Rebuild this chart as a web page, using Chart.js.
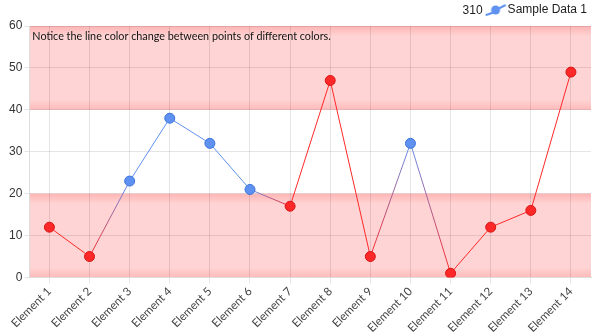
<!DOCTYPE html>
<html>
<head>
<meta charset="utf-8">
<script src="https://cdn.jsdelivr.net/npm/chart.js@4/dist/chart.umd.min.js"></script>
<style>
  html, body { margin: 0; padding: 0; background: #fff; }
  #wrap { width: 601px; height: 336px; }
</style>
</head>
<body>
<div id="wrap"><canvas id="chart"></canvas></div>
<script>
// ===== Data =====
const labels = ['Element 1', 'Element 2', 'Element 3', 'Element 4', 'Element 5', 'Element 6', 'Element 7',
  'Element 8', 'Element 9', 'Element 10', 'Element 11', 'Element 12', 'Element 13', 'Element 14'];
const values = [12, 5, 23, 38, 32, 21, 17, 47, 5, 32, 1, 12, 16, 49];
const yTicks = [0, 10, 20, 30, 40, 50, 60];
const bands = [[0, 20], [40, 60]];
const legendPrefix = '310';
const note = 'Notice the line color change between points of different colors.';

const RED = 'rgb(255, 40, 40)';
const RED_DARK = 'rgb(215, 20, 20)';
const BLUE = 'rgb(95, 145, 240)';
const BLUE_DARK = 'rgb(60, 115, 220)';

// red outside 20..40, blue inside
function colorFor(v) { return (v < 20 || v > 40) ? RED : BLUE; }
function borderFor(v) { return (v < 20 || v > 40) ? RED_DARK : BLUE_DARK; }

const FONT = "Lato, sans-serif";
const ARIAL = "'Liberation Sans', Arial, sans-serif";

// legend icon: small line with a dot on it
const legendIcon = document.createElement('canvas');
legendIcon.width = 22;
legendIcon.height = 14;
(function () {
  const c = legendIcon.getContext('2d');
  c.strokeStyle = BLUE;
  c.lineWidth = 2;
  c.beginPath();
  c.moveTo(1, 12);
  c.quadraticCurveTo(7, 11, 11, 7);
  c.lineTo(21, 2);
  c.stroke();
  c.fillStyle = BLUE;
  c.beginPath();
  c.arc(11, 7, 4.5, 0, Math.PI * 2);
  c.fill();
})();

// ===== Background bands + note text =====
const bandPlugin = {
  id: 'bands',
  beforeDraw(chart) {
    const { ctx, chartArea, scales } = chart;
    const y = scales.y;
    ctx.save();
    bands.forEach(([lo, hi]) => {
      const top = y.getPixelForValue(hi);
      const bot = y.getPixelForValue(lo);
      const g = ctx.createLinearGradient(0, top, 0, bot);
      g.addColorStop(0, 'rgba(255, 172, 172, 0.9)');
      g.addColorStop(0.12, 'rgba(255, 207, 207, 0.9)');
      g.addColorStop(0.88, 'rgba(255, 207, 207, 0.9)');
      g.addColorStop(1, 'rgba(255, 178, 178, 0.9)');
      ctx.fillStyle = g;
      ctx.fillRect(chartArea.left, top, chartArea.right - chartArea.left, bot - top);
    });
    ctx.restore();
  },
  afterDraw(chart) {
    const { ctx, chartArea, legend } = chart;
    ctx.save();
    ctx.fillStyle = '#111';
    ctx.font = "10.8px " + FONT;
    ctx.textBaseline = 'middle';
    ctx.fillText(note, chartArea.left + 3, chartArea.top + 11);
    // prefix in front of the legend item
    if (legend && legend.legendHitBoxes.length) {
      const box = legend.legendHitBoxes[0];
      ctx.font = "12px " + ARIAL;
      ctx.fillStyle = '#222';
      ctx.textAlign = 'right';
      ctx.fillText(legendPrefix, box.left - 7, box.top + box.height / 2 + 1);
    }
    ctx.restore();
  }
};

// gradient between consecutive points of different colours
function segColor(c) {
  const a = values[c.p0DataIndex], b = values[c.p1DataIndex];
  const ca = colorFor(a), cb = colorFor(b);
  if (ca === cb) return ca;
  const g = c.chart.ctx.createLinearGradient(c.p0.x, c.p0.y, c.p1.x, c.p1.y);
  g.addColorStop(0, ca);
  g.addColorStop(1, cb);
  return g;
}

new Chart(document.getElementById('chart'), {
  type: 'line',
  data: {
    labels: labels,
    datasets: [{
      label: 'Sample Data 1',
      data: values,
      borderWidth: 1,
      borderColor: BLUE,
      backgroundColor: BLUE,
      tension: 0,
      fill: false,
      pointRadius: 5,
      pointHoverRadius: 5,
      pointBorderWidth: 1,
      pointBackgroundColor: values.map(colorFor),
      pointBorderColor: values.map(borderFor),
      segment: { borderColor: segColor }
    }]
  },
  options: {
    responsive: true,
    maintainAspectRatio: false,
    animation: false,
    layout: { padding: { left: 7, right: 10, top: 0, bottom: 0 } },
    plugins: {
      tooltip: { enabled: false },
      legend: {
        align: 'end',
        labels: {
          usePointStyle: true,
          boxWidth: 22,
          boxHeight: 14,
          padding: 4,
          color: '#222',
          font: { family: ARIAL, size: 12 },
          generateLabels(chart) {
            const items = Chart.defaults.plugins.legend.labels.generateLabels(chart);
            items.forEach(it => { it.pointStyle = legendIcon; });
            return items;
          }
        }
      }
    },
    scales: {
      x: {
        offset: true,
        grid: { color: 'rgba(0,0,0,0.1)', tickLength: 6, offset: false },
        border: { color: '#ddd' },
        ticks: {
          padding: 1,
          maxRotation: 45, minRotation: 45,
          color: '#444',
          font: { family: FONT, size: 11.5 }
        }
      },
      y: {
        min: 0, max: 60,
        afterBuildTicks(axis) { axis.ticks = yTicks.map(v => ({ value: v })); },
        grid: { color: 'rgba(0,0,0,0.1)', tickLength: 5 },
        border: { color: '#ddd' },
        ticks: {
          padding: 2,
          color: '#333',
          font: { family: ARIAL, size: 12 }
        }
      }
    }
  },
  plugins: [bandPlugin]
});
</script>
</body>
</html>
